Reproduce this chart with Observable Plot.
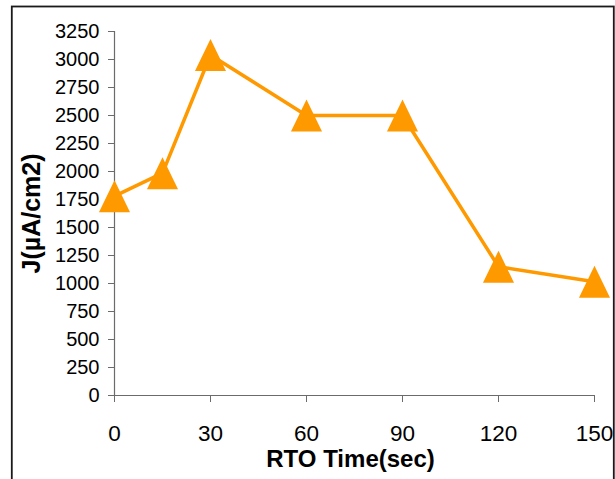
<!DOCTYPE html>
<html>
<head>
<meta charset="utf-8">
<script src="https://cdn.jsdelivr.net/npm/d3@7"></script>
<script src="https://cdn.jsdelivr.net/npm/@observablehq/plot@0.6"></script>
<style>
  html, body { margin: 0; padding: 0; background: #fff; }
</style>
</head>
<body>
<div id="chart"></div>
<script>
const rtoTime = [0, 15, 30, 60, 90, 120, 150];
const currentDensity = [1780, 1985, 3040, 2500, 2500, 1150, 1015];
const xTicks = [0, 30, 60, 90, 120, 150];
const yTicks = [0, 250, 500, 750, 1000, 1250, 1500, 1750, 2000, 2250, 2500, 2750, 3000, 3250];
const xTitle = "RTO Time(sec)";
const yTitle = "J(µA/cm2)";

const data = rtoTime.map((t, i) => ({t, j: currentDensity[i]}));

const orange = "#FF9900";
const axisGray = "#6b6b6b";
const font = "'Liberation Sans', Arial, sans-serif";

const triangle = {
  draw(context, size) {
    const s = Math.sqrt(size / Math.PI);
    context.moveTo(0, -s);
    context.lineTo(s * 0.97, s);
    context.lineTo(-s * 0.97, s);
    context.closePath();
  }
};

const chart = Plot.plot({
  width: 615,
  height: 479,
  marginLeft: 114,
  marginRight: 21,
  marginTop: 31,
  marginBottom: 84,
  style: {fontFamily: font, background: "#fff", color: "#000"},
  x: {domain: [0, 150], axis: null},
  y: {domain: [0, 3250], axis: null},
  marks: [
    Plot.frame({stroke: "#1a1a1a", strokeWidth: 1.8, insetLeft: -102.7, insetTop: -25, insetRight: -19.3, insetBottom: -95}),
    // tick marks (gray)
    Plot.axisY({ticks: yTicks, tickSize: 6, tickFormat: () => "", color: axisGray, label: null}),
    Plot.axisX({ticks: xTicks, tickSize: 7, tickFormat: () => "", color: axisGray, label: null}),
    // tick labels (black)
    Plot.axisY({ticks: yTicks, tickSize: 0, tickPadding: 15, fontSize: 20, color: "#000", label: null, tickFormat: d => String(d)}),
    Plot.axisX({ticks: xTicks, tickSize: 0, tickPadding: 30, fontSize: 22.5, color: "#000", label: null, tickFormat: d => String(d)}),
    // axis lines
    Plot.ruleX([0], {y1: 0, y2: 3250, stroke: axisGray, strokeWidth: 1.2}),
    Plot.ruleY([0], {x1: 0, x2: 150, stroke: axisGray, strokeWidth: 1.2}),
    // series
    Plot.line(data, {x: "t", y: "j", stroke: orange, strokeWidth: 3.5}),
    Plot.dot(data, {x: "t", y: "j", symbol: triangle, r: 16, fill: orange, stroke: "none"}),
    // titles
    Plot.text([xTitle], {frameAnchor: "bottom", textAnchor: "middle", dx: -4, dy: 64, lineAnchor: "middle", fontSize: 24, fontWeight: "bold", fill: "#000"}),
    Plot.text([yTitle], {frameAnchor: "left", textAnchor: "middle", dx: -82.7, dy: 0, rotate: -90, lineAnchor: "middle", fontSize: 25, fontWeight: "bold", fill: "#000"})
  ]
});

document.getElementById("chart").appendChild(chart);
</script>
</body>
</html>
